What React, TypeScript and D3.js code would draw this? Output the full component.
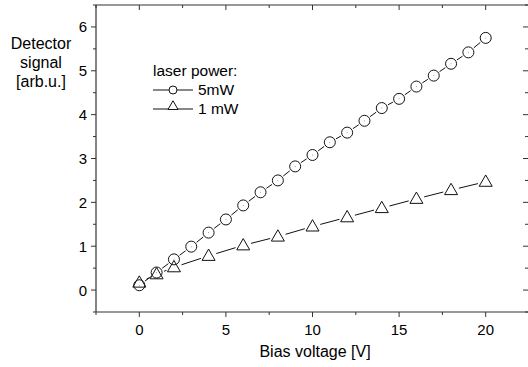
import React from "react";
import * as d3 from "d3";

const biasHigh = [0, 1, 2, 3, 4, 5, 6, 7, 8, 9, 10, 11, 12, 13, 14, 15, 16, 17, 18, 19, 20];
const signal5mW = [0.11, 0.4, 0.7, 0.99, 1.31, 1.61, 1.93, 2.23, 2.5, 2.82, 3.08, 3.37, 3.59, 3.86, 4.15, 4.36, 4.64, 4.89, 5.16, 5.42, 5.75];
const biasLow = [0, 1, 2, 4, 6, 8, 10, 12, 14, 16, 18, 20];
const signal1mW = [0.17, 0.36, 0.52, 0.78, 1.02, 1.22, 1.45, 1.66, 1.87, 2.08, 2.28, 2.47];
const xMajor = [0, 5, 10, 15, 20];
const xMinor = [-2.5, 2.5, 7.5, 12.5, 17.5, 22.5];
const yMajor = [0, 1, 2, 3, 4, 5, 6];
const yMinor = [-0.5, 0.5, 1.5, 2.5, 3.5, 4.5, 5.5, 6.5];
const legendTitle = "laser power:";
const seriesNames = ["5mW", "1 mW"];

const W = 528;
const H = 367;
const FONT = "'Liberation Sans', Arial, sans-serif";

const x = d3.scaleLinear().domain([-2.5, 22.5]).range([96, 529]);
const y = d3.scaleLinear().domain([-0.5, 6.5]).range([312, 5]);

function gappedSegments(pts: [number, number][], gap: number) {
  const segs: string[] = [];
  for (let i = 0; i < pts.length - 1; i++) {
    const [x1, y1] = pts[i];
    const [x2, y2] = pts[i + 1];
    const dx = x2 - x1, dy = y2 - y1;
    const len = Math.hypot(dx, dy);
    if (len <= 2 * gap) continue;
    const ux = dx / len, uy = dy / len;
    segs.push(`M${x1 + ux * gap},${y1 + uy * gap}L${x2 - ux * gap},${y2 - uy * gap}`);
  }
  return segs.join("");
}

const triPath = (cx: number, cy: number, s: number) => {
  const h = s * 0.87;
  return `M${cx},${cy - h * 0.6}L${cx + s / 2},${cy + h * 0.4}L${cx - s / 2},${cy + h * 0.4}Z`;
};

export default function App() {
  const ptsHigh: [number, number][] = biasHigh.map((v, i) => [x(v), y(signal5mW[i])]);
  const ptsLow: [number, number][] = biasLow.map((v, i) => [x(v), y(signal1mW[i])]);
  const stroke = "#111";
  return (
    <svg width={W} height={H} style={{ position: "absolute", left: 0, top: 0, background: "#fff" }} fontFamily={FONT}>
      {/* frame */}
      <line x1={x(-2.5)} x2={x(22.5)} y1={y(6.5)} y2={y(6.5)} stroke="#333" strokeWidth={1.2} />
      <line x1={x(-2.5)} x2={x(22.5)} y1={y(-0.5)} y2={y(-0.5)} stroke="#333" strokeWidth={1.2} />
      <line x1={x(-2.5)} x2={x(-2.5)} y1={y(-0.5)} y2={y(6.5)} stroke="#333" strokeWidth={1.2} />
      <line x1={x(22.5)} x2={x(22.5)} y1={y(-0.5)} y2={y(6.5)} stroke="#333" strokeWidth={1.2} />
      {/* x ticks */}
      {xMajor.map((t) => (
        <g key={"xm" + t}>
          <line x1={x(t)} x2={x(t)} y1={y(-0.5)} y2={y(-0.5) + 5} stroke="#333" />
          <line x1={x(t)} x2={x(t)} y1={y(6.5)} y2={y(6.5) + 5} stroke="#333" />
          <text x={x(t)} y={335} textAnchor="middle" fontSize={15} fill="#000">{t}</text>
        </g>
      ))}
      {xMinor.map((t) => (
        <g key={"xn" + t}>
          <line x1={x(t)} x2={x(t)} y1={y(-0.5)} y2={y(-0.5) + 3} stroke="#333" />
          <line x1={x(t)} x2={x(t)} y1={y(6.5)} y2={y(6.5) + 3} stroke="#333" />
        </g>
      ))}
      {/* y ticks */}
      {yMajor.map((t) => (
        <g key={"ym" + t}>
          <line x1={x(-2.5) - 5} x2={x(-2.5)} y1={y(t)} y2={y(t)} stroke="#333" />
          <line x1={W - 5} x2={W} y1={y(t)} y2={y(t)} stroke="#333" />
          <text x={87} y={y(t) + 5.5} textAnchor="end" fontSize={15} fill="#000">{t}</text>
        </g>
      ))}
      {yMinor.map((t) => (
        <g key={"yn" + t}>
          <line x1={x(-2.5) - 3} x2={x(-2.5)} y1={y(t)} y2={y(t)} stroke="#333" />
          <line x1={W - 3} x2={W} y1={y(t)} y2={y(t)} stroke="#333" />
        </g>
      ))}
      {/* axis titles */}
      <text x={315} y={357} textAnchor="middle" fontSize={16} fill="#000">Bias voltage [V]</text>
      <text x={41} y={49} textAnchor="middle" fontSize={16} fill="#000">Detector</text>
      <text x={41} y={68} textAnchor="middle" fontSize={16} fill="#000">signal</text>
      <text x={41} y={87} textAnchor="middle" fontSize={16} fill="#000">[arb.u.]</text>
      {/* series */}
      <path d={gappedSegments(ptsHigh, 7)} stroke={stroke} strokeWidth={1} fill="none" />
      <path d={gappedSegments(ptsLow, 8)} stroke={stroke} strokeWidth={1} fill="none" />
      {ptsHigh.map(([cx, cy], i) => (
        <g key={"c" + i}>
          <circle cx={cx} cy={cy} r={5.5} fill="none" stroke={stroke} strokeWidth={1} />
          <circle cx={cx} cy={cy} r={0.5} fill="#888" />
        </g>
      ))}
      {ptsLow.map(([cx, cy], i) => (
        <path key={"t" + i} d={triPath(cx, cy, 13)} fill="none" stroke={stroke} strokeWidth={1} />
      ))}
      {/* legend */}
      <text x={153} y={76} fontSize={15.5} fill="#000">{legendTitle}</text>
      <line x1={153} x2={169} y1={90} y2={90} stroke={stroke} />
      <line x1={177} x2={193} y1={90} y2={90} stroke={stroke} />
      <circle cx={173} cy={90} r={4} fill="none" stroke={stroke} />
      <text x={198} y={95} fontSize={15.5} fill="#000">{seriesNames[0]}</text>
      <line x1={153} x2={168} y1={109} y2={109} stroke={stroke} />
      <line x1={178} x2={193} y1={109} y2={109} stroke={stroke} />
      <path d={triPath(173, 106, 10)} fill="none" stroke={stroke} />
      <text x={198} y={114} fontSize={15.5} fill="#000">{seriesNames[1]}</text>
    </svg>
  );
}
